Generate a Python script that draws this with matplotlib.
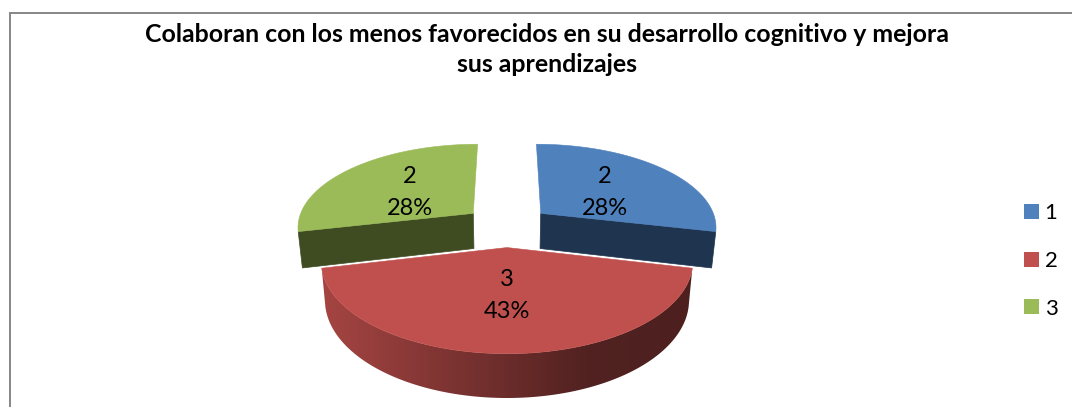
import numpy as np
import matplotlib
matplotlib.use("Agg")
import matplotlib.pyplot as plt
from matplotlib.patches import Polygon, Patch
from matplotlib.colors import to_rgb, LinearSegmentedColormap

title = "Colaboran con los menos favorecidos en su desarrollo cognitivo y mejora\nsus aprendizajes"
categories = ["1", "2", "3"]
values = [2, 3, 2]
pct_labels = ["28%", "43%", "28%"]
top_colors = ["#4F81BD", "#C0504D", "#9BBB59"]
cut_colors = ["#1F344F", "#50201F", "#3F4C22"]

W, H = 1072, 407
CX, CY, RX, RY, P, EXPLODE, DEPTH, SHRINK = 507, 226, 176.6, 83, 0.15, 0.25, 36, 0.02

plt.rcParams["font.family"] = ["Lato", "DejaVu Sans"]
fig = plt.figure(figsize=(W / 100, H / 100), dpi=100)
ax = fig.add_axes([0, 0, 1, 1])
ax.axis("off")


def project(a, b, depth=False):
    w = 1 + P * b
    x = CX + RX * a / w
    y = CY - RY * b / w
    if depth:
        x = CX + (x - CX) * (1 - SHRINK)
        y = y + DEPTH / w
    return x, y


fractions = np.array(values, float) / sum(values)
edges = np.concatenate([[0], np.cumsum(fractions)]) * 2 * np.pi

# frame: left and top only, the picture is cropped on the other sides
ax.plot([9.5, 9.5, W], [H, 13, 13], color="#868686", lw=1.4, zorder=0, solid_joinstyle="miter")

for i in [0, 2, 1]:
    t0, t1 = edges[i], edges[i + 1]
    mid = (t0 + t1) / 2
    da, db = EXPLODE * np.sin(mid), EXPLODE * np.cos(mid)
    th = np.linspace(t0, t1, 200)
    arc_a, arc_b = da + np.sin(th), db + np.cos(th)
    z = 2 + (i == 1) * 2

    if i != 1:
        # straight cut face of the side wedges
        end = t1 if i == 0 else t0
        ea, eb = da + np.sin(end), db + np.cos(end)
        pts = [project(da, db), project(ea, eb), project(ea, eb, True), project(da, db, True)]
        ax.add_patch(Polygon(pts, closed=True, fc=cut_colors[i], ec=cut_colors[i], lw=0.5, zorder=z))
    else:
        # outer rim, shaded from left to right
        upper = [project(x, y) for x, y in zip(arc_a, arc_b)]
        lower = [project(x, y, True) for x, y in zip(arc_a, arc_b)]
        rim_pts = np.array(upper + lower[::-1])
        x0, x1 = rim_pts[:, 0].min(), rim_pts[:, 0].max()
        y0, y1 = rim_pts[:, 1].min(), rim_pts[:, 1].max()
        base = np.array(to_rgb(top_colors[i]))
        cmap = LinearSegmentedColormap.from_list(
            "rim", [(0, base * 0.86), (0.72, base * 0.42), (1, base * 0.40)])
        rim = Polygon(rim_pts, closed=True, fc="none", ec="none", zorder=z)
        ax.add_patch(rim)
        im = ax.imshow(np.linspace(0, 1, 512)[None, :], cmap=cmap, extent=(x0, x1, y1, y0),
                       aspect="auto", zorder=z, interpolation="bilinear")
        im.set_clip_path(rim)
        # thin white gap along both straight edges of the wedge
        for e in (t0, t1):
            p0 = project(da, db)
            p1 = project(da + np.sin(e), db + np.cos(e))
            ax.plot([p0[0], p1[0]], [p0[1], p1[1]], color="white", lw=2.0, zorder=z - 0.5,
                    solid_capstyle="butt")

    top = [project(da, db)] + [project(x, y) for x, y in zip(arc_a, arc_b)]
    ax.add_patch(Polygon(top, closed=True, fc=top_colors[i], ec=top_colors[i], lw=0.4, zorder=z + 1))

ax.set_xlim(0, W)
ax.set_ylim(H, 0)

# data labels
label_xy = [(605, 192.5), (507, 295.5), (410, 192.5)]
for v, pct, (x, y) in zip(values, pct_labels, label_xy):
    ax.text(x, y, f"{v}\n{pct}", ha="center", va="center", fontsize=17, linespacing=1.68,
            color="black", zorder=10)

ax.text(547, 49.5, title, ha="center", va="center", fontsize=17.95, fontweight="bold", linespacing=1.42,
        color="black")

handles = [Patch(fc=c, ec="none") for c in top_colors]
ax.legend(handles, categories, loc="center left", bbox_to_anchor=(1024 / W, 1 - 261 / H), frameon=False,
          fontsize=16, handlelength=0.68, handleheight=0.68, handletextpad=0.25, labelspacing=1.24,
          borderpad=0, borderaxespad=0)

fig.savefig("out.png", dpi=100)
